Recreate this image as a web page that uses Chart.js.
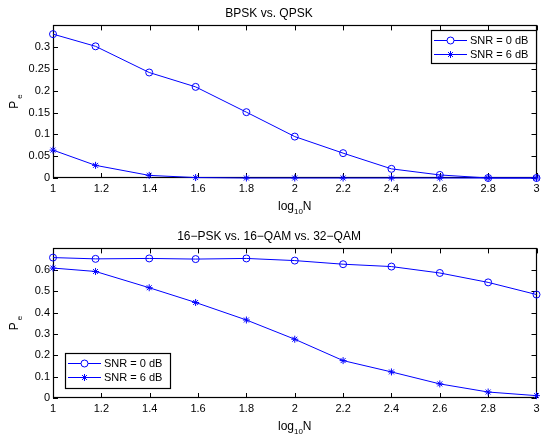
<!DOCTYPE html>
<html>
<head>
<meta charset="utf-8">
<script src="https://cdn.jsdelivr.net/npm/chart.js@4/dist/chart.umd.min.js"></script>
<style>
  body { margin: 0; background: #fff; }
  .box { position: absolute; left: 0; width: 541px; height: 218px; }
  #top { top: 0; }
  #bot { top: 219px; }
</style>
</head>
<body>
<div class="box" id="top"><canvas id="c1"></canvas></div>
<div class="box" id="bot"><canvas id="c2"></canvas></div>
<script>
// log10 of block length N
const logN = [1, 1.176, 1.398, 1.59, 1.8, 2, 2.2, 2.4, 2.6, 2.8, 3];
const xTicks = [1, 1.2, 1.4, 1.6, 1.8, 2, 2.2, 2.4, 2.6, 2.8, 3];

// BPSK vs. QPSK
const bpskSnr0 = [0.330, 0.302, 0.242, 0.209, 0.151, 0.095, 0.057, 0.021, 0.007, 0.0, 0.0];
const bpskSnr6 = [0.064, 0.029, 0.006, 0.001, 0, 0, 0, 0, 0, 0, 0];
const yTicksTop = [0, 0.05, 0.1, 0.15, 0.2, 0.25, 0.3];

// 16-PSK vs. 16-QAM vs. 32-QAM
const qamSnr0 = [0.657, 0.651, 0.653, 0.650, 0.653, 0.643, 0.626, 0.615, 0.585, 0.541, 0.484];
const qamSnr6 = [0.608, 0.592, 0.516, 0.447, 0.365, 0.275, 0.175, 0.122, 0.066, 0.028, 0.011];
const yTicksBot = [0, 0.1, 0.2, 0.3, 0.4, 0.5, 0.6];

const legendLabels = ['SNR = 0 dB', 'SNR = 6 dB'];

const FONT = '"Liberation Sans", Arial, Helvetica, sans-serif';
const BLUE = '#0000ff';
const fmt = v => String(Number(v.toFixed(2)));

// matlab-ish box with inward ticks, drawn under the data
const frameTicks = {
  id: 'frameTicks',
  beforeDatasetsDraw(chart) {
    const { ctx, chartArea: a, scales: { x, y } } = chart;
    ctx.save();
    ctx.strokeStyle = '#000';
    ctx.lineWidth = 1;
    ctx.beginPath();
    x.ticks.forEach(t => {
      const px = Math.round(x.getPixelForValue(t.value)) + 0.5;
      ctx.moveTo(px, a.bottom); ctx.lineTo(px, a.bottom - 5);
      ctx.moveTo(px, a.top); ctx.lineTo(px, a.top + 5);
    });
    y.ticks.forEach(t => {
      const py = Math.round(y.getPixelForValue(t.value)) + 0.5;
      ctx.moveTo(a.left, py); ctx.lineTo(a.left + 5, py);
      ctx.moveTo(a.right, py); ctx.lineTo(a.right - 5, py);
    });
    ctx.stroke();
    ctx.lineWidth = 1.2;
    ctx.strokeRect(Math.round(a.left) + 0.5, Math.round(a.top) + 0.5,
      Math.round(a.right - a.left) - 1, Math.round(a.bottom - a.top) - 1);

    // axis titles with subscripts
    ctx.fillStyle = '#000';
    ctx.textBaseline = 'alphabetic';
    const cx = (a.left + a.right) / 2;
    const ty = a.bottom + 32;
    ctx.font = '12px ' + FONT;
    const wLog = ctx.measureText('log').width;
    const wN = ctx.measureText('N').width;
    ctx.font = '8px ' + FONT;
    const w10 = ctx.measureText('10').width;
    let sx = cx - (wLog + w10 + wN) / 2;
    ctx.font = '12px ' + FONT;
    ctx.fillText('log', sx, ty);
    ctx.font = '8px ' + FONT;
    ctx.fillText('10', sx + wLog, ty + 4);
    ctx.font = '12px ' + FONT;
    ctx.fillText('N', sx + wLog + w10, ty);

    ctx.translate(18, (a.top + a.bottom) / 2);
    ctx.rotate(-Math.PI / 2);
    ctx.font = '12px ' + FONT;
    const wP = ctx.measureText('P').width;
    ctx.fillText('P', -wP / 2 - 3, 0);
    ctx.font = '8px ' + FONT;
    ctx.fillText('e', wP / 2 - 1, 4);
    ctx.restore();
  }
};

// legend box inside the axes
const boxLegend = {
  id: 'boxLegend',
  afterDraw(chart, args, opts) {
    const { ctx } = chart;
    const { x, y, w, h } = opts;
    ctx.save();
    ctx.fillStyle = '#fff';
    ctx.fillRect(x, y, w, h);
    ctx.strokeStyle = '#000';
    ctx.lineWidth = 1.2;
    ctx.strokeRect(x + 0.5, y + 0.5, w, h);
    chart.data.datasets.forEach((ds, i) => {
      const ry = Math.round(y + 10 + i * 14) + 0.5;
      ctx.strokeStyle = ds.borderColor;
      ctx.lineWidth = 1;
      ctx.beginPath();
      ctx.moveTo(x + 3, ry); ctx.lineTo(x + 36, ry);
      ctx.stroke();
      Chart.helpers.drawPoint(ctx, {
        pointStyle: ds.pointStyle, radius: ds.pointRadius, borderWidth: 1
      }, x + 19.5, ry);
      ctx.fillStyle = '#000';
      ctx.font = '11px ' + FONT;
      ctx.textBaseline = 'middle';
      ctx.fillText(ds.label, x + 39, ry);
    });
    ctx.restore();
  }
};

function makeChart(id, title, titlePad, s0, s6, yMax, yTicks, legendBox, xH) {
  const mk = (label, data, style) => ({
    label, data: logN.map((v, i) => ({ x: v, y: data[i] })),
    borderColor: BLUE, backgroundColor: 'rgba(0,0,0,0)', borderWidth: 1,
    pointStyle: style, pointRadius: 3.5, pointHoverRadius: 3.5,
    pointBorderColor: BLUE, pointBackgroundColor: 'rgba(0,0,0,0)',
    pointBorderWidth: 1, tension: 0, clip: false
  });
  return new Chart(document.getElementById(id), {
    type: 'line',
    data: {
      datasets: [mk(legendLabels[0], s0, 'circle'), mk(legendLabels[1], s6, 'star')]
    },
    options: {
      responsive: true,
      maintainAspectRatio: false,
      animation: false,
      events: [],
      layout: { padding: { left: 0, right: 3, top: 0, bottom: 0 } },
      plugins: {
        legend: { display: false },
        tooltip: { enabled: false },
        title: {
          display: true, text: title, color: '#000',
          font: { family: FONT, size: 12, weight: 'normal' },
          padding: titlePad
        },
        boxLegend: legendBox
      },
      scales: {
        x: {
          type: 'linear', min: 1, max: 3,
          grid: { display: false, drawTicks: false },
          border: { display: false },
          afterBuildTicks: s => { s.ticks = xTicks.map(v => ({ value: v })); },
          afterFit: s => { s.height = xH; s.paddingLeft = 0; s.paddingRight = 0; },
          ticks: { color: '#000', padding: 4, maxRotation: 0, autoSkip: false,
                   font: { family: FONT, size: 11 }, callback: fmt }
        },
        y: {
          type: 'linear', min: 0, max: yMax,
          grid: { display: false, drawTicks: false },
          border: { display: false },
          afterBuildTicks: s => { s.ticks = yTicks.map(v => ({ value: v })); },
          afterFit: s => { s.width = 53; s.paddingTop = 0; s.paddingBottom = 0; },
          ticks: { color: '#000', padding: 3, autoSkip: false,
                   font: { family: FONT, size: 11 }, callback: fmt }
        }
      }
    },
    plugins: [frameTicks, boxLegend]
  });
}

makeChart('c1', 'BPSK vs. QPSK', { top: 6, bottom: 5 }, bpskSnr0, bpskSnr6,
  0.35, yTicksTop, { x: 431, y: 30, w: 105, h: 33 }, 40);
makeChart('c2', '16\u2212PSK vs. 16\u2212QAM vs. 32\u2212QAM', { top: 10, bottom: 5 }, qamSnr0, qamSnr6,
  0.70, yTicksBot, { x: 65, y: 134, w: 105, h: 35 }, 39);
</script>
</body>
</html>
